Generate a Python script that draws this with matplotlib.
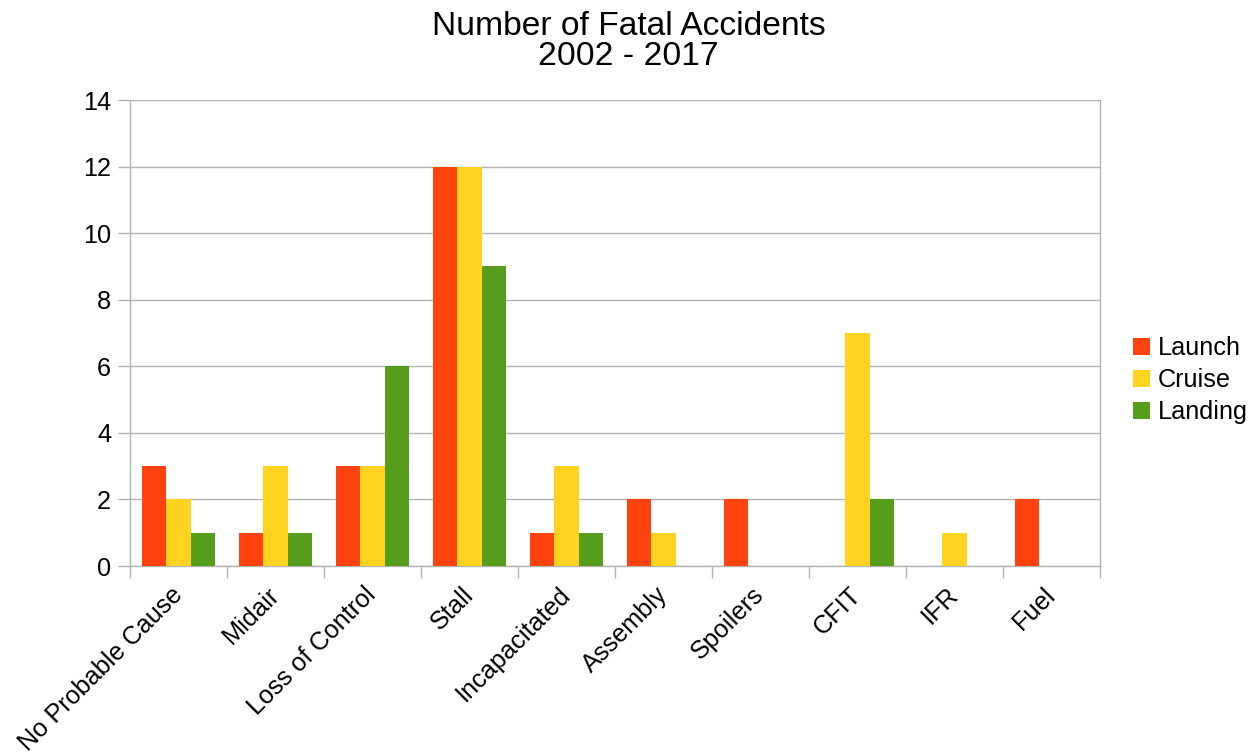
import matplotlib

matplotlib.use("Agg")
import matplotlib.pyplot as plt
import numpy as np

plt.rcParams["font.family"] = ["Liberation Sans", "DejaVu Sans"]

categories = ["No Probable Cause", "Midair", "Loss of Control", "Stall",
              "Incapacitated", "Assembly", "Spoilers", "CFIT", "IFR", "Fuel"]
launch = [3, 1, 3, 12, 1, 2, 2, 0, 0, 2]
cruise = [2, 3, 3, 12, 3, 1, 0, 7, 1, 0]
landing = [1, 1, 6, 9, 1, 0, 0, 2, 0, 0]
series = [("Launch", launch, "#ff420e"),
          ("Cruise", cruise, "#ffd320"),
          ("Landing", landing, "#579d1c")]
yticks = [0, 2, 4, 6, 8, 10, 12, 14]

GRID = "#b3b3b3"
FS = 18.2

fig = plt.figure(figsize=(12.55, 7.55), dpi=100)
ax = fig.add_axes([130 / 1255, 1 - 566 / 755, 970 / 1255, 466 / 755])

x = np.arange(len(categories))
w = 0.25
for i, (name, vals, col) in enumerate(series):
    ax.bar(x + (i - 1) * w, vals, width=w, color=col, label=name, zorder=3)

ax.set_xlim(-0.5, len(categories) - 0.5)
ax.set_ylim(0, 14)
ax.set_yticks(yticks)
ax.yaxis.grid(True, color=GRID, lw=1.0, zorder=0)
ax.set_axisbelow(True)

# category labels at centres, tick marks on the boundaries
ax.set_xticks(x)
ax.set_xticklabels(categories, rotation=45, ha="right", va="center",
                   rotation_mode="anchor")
ax.set_xticks(np.arange(-0.5, len(categories)), minor=True)
ax.tick_params(axis="x", which="major", length=0, pad=18, labelsize=FS)
ax.tick_params(axis="x", which="minor", length=8.6, width=1.0, color=GRID)
ax.tick_params(axis="y", length=8.6, width=1.0, color=GRID, pad=5, labelsize=FS)

for side in ("left", "right", "bottom"):
    ax.spines[side].set_color(GRID)
    ax.spines[side].set_linewidth(1.0)
ax.spines["top"].set_visible(False)

fig.text(0.501, 1 - 11 / 755, "Number of Fatal Accidents\n2002 - 2017",
         ha="center", va="top", fontsize=24.2, linespacing=0.97)

ax.legend(loc="center left", bbox_to_anchor=(1133 / 1255, 1 - 380 / 755),
          bbox_transform=fig.transFigure, frameon=False, fontsize=FS,
          handlelength=0.66, handleheight=0.66, handletextpad=0.33,
          labelspacing=0.32, borderpad=0, borderaxespad=0)

fig.savefig("out.png", dpi=100)
